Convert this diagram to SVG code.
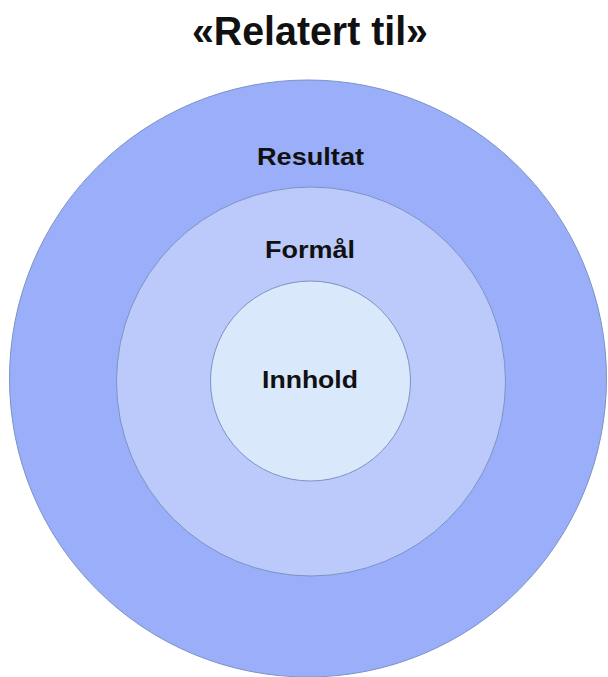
<svg xmlns="http://www.w3.org/2000/svg" width="608" height="677" viewBox="0 0 608 677">
<style>
.ring{stroke:#7b93c4;stroke-width:1}
.lbl{font-family:"Liberation Sans",Arial,sans-serif;font-weight:bold;font-size:24px;fill:#111;text-anchor:middle}
.title{font-family:"Liberation Sans",Arial,sans-serif;font-weight:bold;font-size:40px;fill:#111;text-anchor:middle}
</style>
<rect width="608" height="677" fill="#ffffff"/>
<g id="title"><text class="title" x="310" y="45" textLength="236" lengthAdjust="spacingAndGlyphs">«Relatert til»</text></g>
<g id="resultat">
<circle class="ring" cx="308" cy="378.5" r="298.5" fill="#9aaef9"/>
<text class="lbl" x="310.5" y="165" textLength="107" lengthAdjust="spacingAndGlyphs">Resultat</text>
</g>
<g id="formal">
<circle class="ring" cx="311" cy="381.5" r="194.5" fill="#bccafb"/>
<text class="lbl" x="310" y="258" textLength="90" lengthAdjust="spacingAndGlyphs">Formål</text>
</g>
<g id="innhold">
<circle class="ring" cx="310.5" cy="381" r="100" fill="#dae8fc"/>
<text class="lbl" x="310" y="388" textLength="96" lengthAdjust="spacingAndGlyphs">Innhold</text>
</g>
<g id="connectors"></g>
</svg>
